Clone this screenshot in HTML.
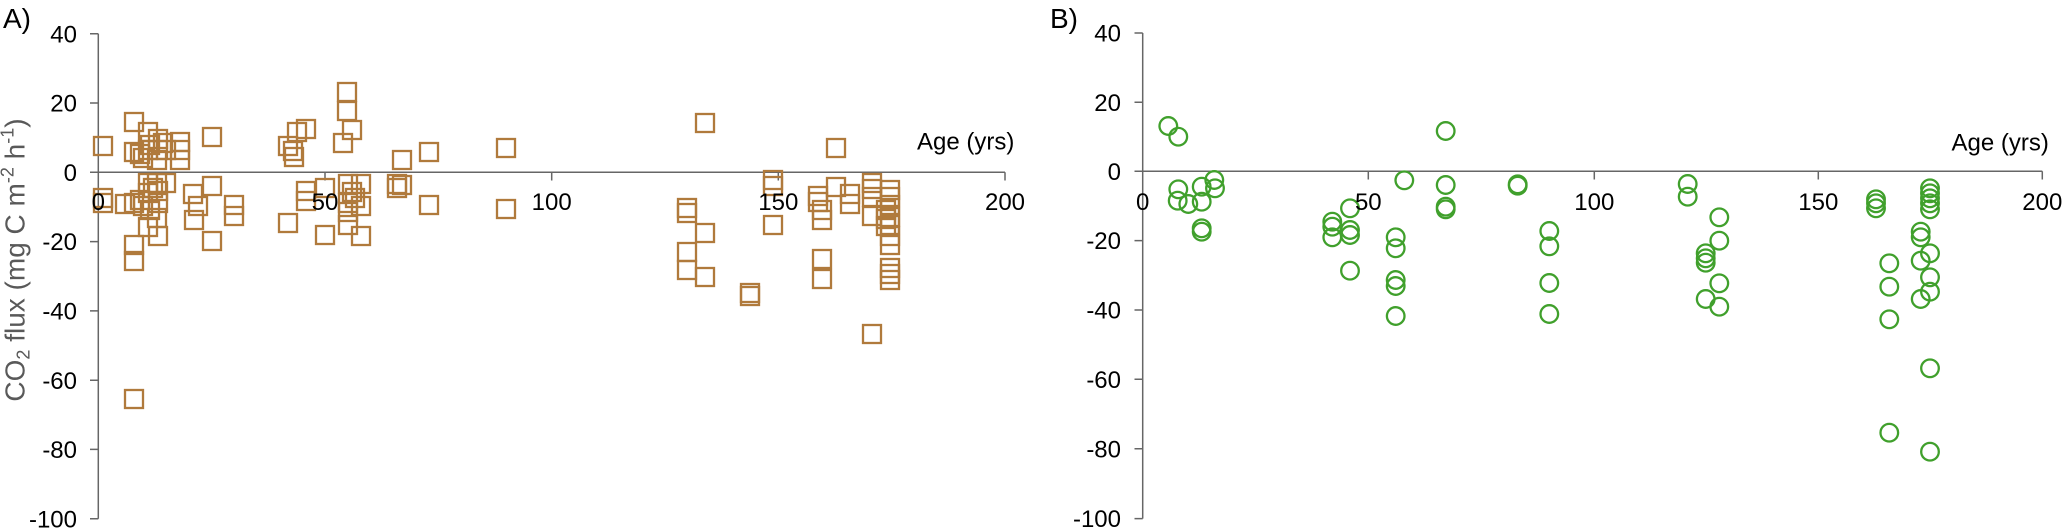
<!DOCTYPE html>
<html>
<head>
<meta charset="utf-8">
<style>
html,body{margin:0;padding:0;background:#fff;}
svg{display:block;}
text{font-family:"Liberation Sans",Arial,sans-serif;}
</style>
</head>
<body>
<svg xmlns="http://www.w3.org/2000/svg" width="2067" height="528" viewBox="0 0 2067 528">
<defs>
<marker id="sq" markerUnits="userSpaceOnUse" markerWidth="24" markerHeight="24" refX="12" refY="12" overflow="visible">
<rect x="3" y="3" width="18" height="18" fill="none" stroke="#b07a3c" stroke-width="2.3"/>
</marker>
<marker id="ci" markerUnits="userSpaceOnUse" markerWidth="24" markerHeight="24" refX="12" refY="12" overflow="visible">
<circle cx="12" cy="12" r="8.8" fill="none" stroke="#40a02c" stroke-width="2.3"/>
</marker>
</defs>
<rect width="2067" height="528" fill="#fff"/>

<g stroke="#666" stroke-width="1.5" fill="none">
<path d="M98.3 33.7V518.7M90 33.7H98.3M90 103H98.3M90 172.3H98.3M90 241.6H98.3M90 310.9H98.3M90 380.2H98.3M90 449.4H98.3M90 518.7H98.3M98.3 172.3H1005M325 172.3V180.5M551.7 172.3V180.5M778.3 172.3V180.5M1005 172.3V180.5"/>
<path d="M1142.7 33V518.6M1134.5 33H1142.7M1134.5 102.2H1142.7M1134.5 171.3H1142.7M1134.5 240.6H1142.7M1134.5 310H1142.7M1134.5 379.3H1142.7M1134.5 448.7H1142.7M1134.5 518.6H1142.7M1142.7 171.3H2042.3M1368.3 171.3V179.5M1594.3 171.3V179.5M1818.3 171.3V179.5M2042.3 171.3V179.5"/>
</g>

<polyline fill="none" stroke="none" marker-start="url(#sq)" marker-mid="url(#sq)" marker-end="url(#sq)" points="103,146 134,122 148,132 158,139 134,152 140,154 143,158 148,150 158,150 166,150 157,160 150,145 163,143 180,142 180,150 180,160 212,137 288,146 297,132 306,129 294,157 293,151 347,92 347,111 352,130 343,143 402,160 429,152 506,148 705,123 836,148 103,198 103,203 125,204 134,203 140,200 148,183 148,193 157,183 158,191 158,203 157,218 148,227 158,236 166,183 153,188 150,210 143,206 134,245 134,261 193,194 198,206 194,220 212,186 212,241 234,205 234,216 134,399 306,191 306,201 325,188 288,223 325,235 348,184 352,192 361,184 348,203 361,206 348,212 348,225 361,236 355,198 397,184 397,188 402,185 429,205 506,209 773,180 773,186 773,225 687,208 687,213 705,233 687,252 687,270 705,277 750,293 750,296 818,196 818,202 822,210 822,220 836,187 850,194 850,204 822,259 822,279 872,183 872,189 872,197 872,216 886,210 886,219 886,226 890,190 890,197 890,205 890,217 890,225 890,236 890,245 890,268 890,274 890,280 872,334"/>

<polyline fill="none" stroke="none" marker-start="url(#ci)" marker-mid="url(#ci)" marker-end="url(#ci)" points="1168.3,126 1178.3,136.7 1178.3,189.3 1177.7,200.7 1188.3,204 1201.7,186.7 1201.7,201.7 1214.3,180 1215,188.3 1201.7,228.3 1201.7,231.7 1332.3,221.7 1332.3,226.7 1332.3,237.3 1350,208.3 1350,230 1350,235 1350,270.7 1395.7,237.3 1395.7,248.3 1395.7,280 1395.7,286 1395.7,316 1404.3,180.3 1445.7,131 1445.7,185 1445.7,206.7 1445.7,209.3 1517.7,184.3 1517.7,185.7 1549.3,231 1549.3,246.3 1549.3,283 1549.3,314 1687.7,184 1687.7,196.7 1719.3,217.3 1719.3,240.7 1705.7,253.3 1705.7,258.3 1705.7,262.7 1719.3,283.3 1705.7,299 1719.3,306.7 1876,199.3 1876,203.3 1876,208.3 1889.3,263.3 1889.3,286.7 1889.3,319.3 1889.3,432.7 1930,188.3 1930,193.3 1930,198.3 1930,203.3 1930,209.3 1920.7,231.7 1920.7,237.3 1930,253.3 1920.7,260.7 1930,277.3 1930,291.7 1920.7,299 1930,368.3 1930,451.7"/>

<g font-size="24" fill="#000" text-anchor="end">
<text x="77" y="42.3">40</text>
<text x="77" y="111.6">20</text>
<text x="77" y="180.9">0</text>
<text x="77" y="250.2">-20</text>
<text x="77" y="319.5">-40</text>
<text x="77" y="388.8">-60</text>
<text x="77" y="458">-80</text>
<text x="77" y="527.3">-100</text>
<text x="1121" y="41.6">40</text>
<text x="1121" y="110.8">20</text>
<text x="1121" y="179.9">0</text>
<text x="1121" y="249.2">-20</text>
<text x="1121" y="318.6">-40</text>
<text x="1121" y="387.9">-60</text>
<text x="1121" y="457.3">-80</text>
<text x="1121" y="527.2">-100</text>
</g>
<g font-size="24" fill="#000" text-anchor="middle">
<text x="98.3" y="210">0</text>
<text x="325" y="210">50</text>
<text x="551.7" y="210">100</text>
<text x="778.3" y="210">150</text>
<text x="1005" y="210">200</text>
<text x="1142.7" y="210">0</text>
<text x="1368.3" y="210">50</text>
<text x="1594.3" y="210">100</text>
<text x="1818.3" y="210">150</text>
<text x="2042.3" y="210">200</text>
</g>
<text x="917" y="149.5" font-size="24" fill="#000">Age (yrs)</text>
<text x="1951.5" y="150.5" font-size="24" fill="#000">Age (yrs)</text>
<text x="3" y="28" font-size="28" fill="#000">A)</text>
<text x="1050" y="28" font-size="28" fill="#000">B)</text>
<text transform="translate(24.5,260) rotate(-90)" text-anchor="middle" font-size="28" fill="#595959">CO<tspan font-size="18" dy="5">2</tspan><tspan dy="-5"> flux (mg C m</tspan><tspan font-size="18" dy="-11">-2</tspan><tspan dy="11"> h</tspan><tspan font-size="18" dy="-11">-1</tspan><tspan dy="11">)</tspan></text>
</svg>
</body>
</html>
